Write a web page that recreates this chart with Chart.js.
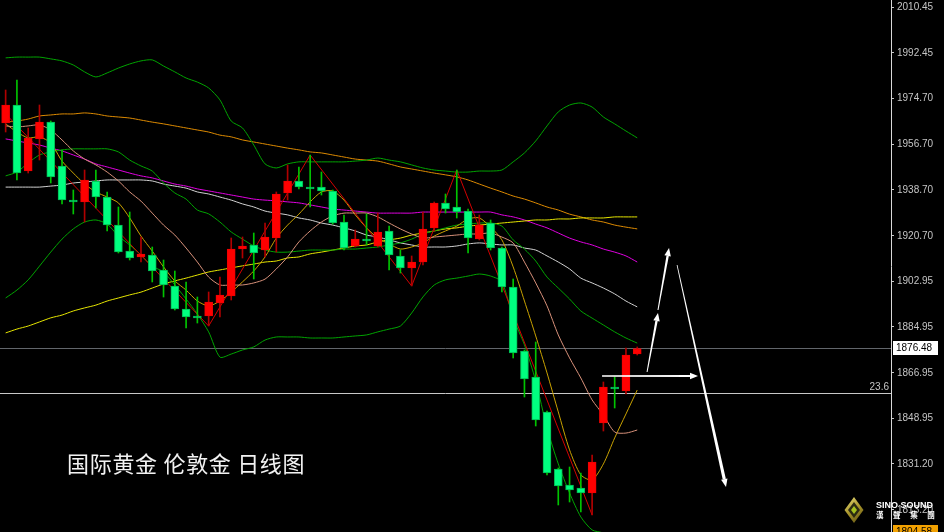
<!DOCTYPE html>
<html>
<head>
<meta charset="utf-8">
<script src="https://cdn.jsdelivr.net/npm/chart.js@4.4.1/dist/chart.umd.min.js"></script>
<style>
  html, body { margin: 0; padding: 0; background: #000; }
  #wrap { position: relative; width: 944px; height: 532px; overflow: hidden; background: #000; }
  #c { display: block; }
  #title {
    position: absolute; left: 67px; top: 451px;
    font: 22px/22px "Noto Sans CJK SC", sans-serif; color: #f2f2f2; white-space: pre; letter-spacing: 0.7px;
  }
  #brand {
    position: absolute; left: 876px; top: 500px;
    font: bold 9px/10px "Liberation Sans", Arial, sans-serif; color: #fff; white-space: nowrap;
  }
  #brandCn {
    position: absolute; left: 876px; top: 510px;
    font: bold 7.5px/9px "Noto Sans CJK TC", sans-serif; color: #fff; letter-spacing: 9.6px; white-space: nowrap;
  }
</style>
</head>
<body>
<div id="wrap">
  <canvas id="c" width="944" height="532"></canvas>
  <div id="title">国际黄金 伦敦金 日线图</div>
  <div id="brand">SINO SOUND</div>
  <div id="brandCn">漢聲集團</div>
</div>
<script>
// Daily gold (XAU) candles, oldest first
const opens  = [1964.95,1972.01,1946.12,1958.67,1965.34,1948.08,1934.74,1933.95,1942.19,1935.92,1924.93,1914.73,1912.38,1913.16,1907.28,1901.00,1891.98,1889.23,1889.23,1894.33,1897.08,1915.51,1917.08,1915.12,1919.83,1937.48,1942.19,1939.84,1939.84,1938.27,1926.11,1916.69,1919.44,1916.69,1922.58,1912.77,1908.06,1910.41,1923.75,1933.56,1931.99,1930.42,1919.44,1925.71,1915.91,1900.61,1875.50,1865.31,1851.57,1829.21,1822.93,1821.75,1819.79,1847.25,1861.38,1859.81,1874.32];
const highs  = [1977.89,1981.82,1962.98,1972.01,1965.73,1954.35,1938.66,1946.51,1946.51,1937.88,1931.99,1930.03,1920.22,1916.30,1911.20,1906.88,1902.57,1896.68,1898.65,1904.53,1919.83,1920.22,1921.79,1925.71,1937.88,1948.47,1947.68,1952.39,1945.72,1938.66,1928.85,1922.97,1929.25,1929.64,1924.54,1915.12,1912.77,1930.03,1933.95,1937.09,1946.51,1931.21,1928.85,1926.89,1916.30,1903.75,1875.89,1879.03,1851.96,1829.60,1829.99,1827.63,1834.70,1863.34,1865.31,1876.68,1877.07];
const lows   = [1961.42,1942.58,1945.33,1950.43,1941.41,1933.17,1929.25,1926.11,1931.60,1922.58,1913.95,1911.20,1910.41,1902.57,1896.68,1891.58,1884.52,1886.48,1885.31,1888.84,1895.51,1911.98,1903.75,1912.38,1914.34,1934.74,1939.05,1931.99,1936.70,1925.32,1915.12,1916.30,1917.08,1916.30,1907.28,1906.10,1901.00,1909.24,1922.58,1929.64,1927.68,1913.95,1919.05,1915.12,1898.65,1872.76,1857.46,1846.08,1826.85,1815.09,1816.26,1812.34,1811.16,1844.11,1853.14,1858.63,1873.93];
const closes = [1972.01,1945.33,1959.06,1965.34,1943.76,1934.74,1933.95,1942.58,1935.92,1924.93,1914.34,1911.98,1913.55,1906.88,1901.39,1891.98,1888.84,1888.45,1894.72,1897.47,1915.51,1916.69,1913.95,1920.22,1937.09,1942.19,1939.84,1939.05,1938.27,1925.71,1915.91,1919.44,1918.65,1922.18,1913.16,1908.06,1910.41,1923.36,1933.56,1931.21,1930.03,1919.83,1924.93,1915.91,1900.61,1874.72,1864.52,1848.43,1827.63,1822.54,1820.97,1819.79,1831.95,1861.38,1860.60,1873.93,1876.48];

// Bollinger bands
const upperBand  = [1990.5,1990.8,1990.8,1990.8,1990.1,1989.3,1987.7,1985.0,1983.0,1984.6,1986.5,1988.1,1989.3,1989.7,1987.3,1985.0,1982.6,1981.0,1978.7,1974.0,1965.7,1963.0,1956.3,1948.9,1947.3,1948.9,1949.7,1949.7,1949.7,1949.7,1949.7,1950.0,1950.4,1951.2,1950.4,1949.7,1948.5,1947.3,1946.5,1946.1,1945.7,1945.7,1946.1,1946.1,1946.5,1949.7,1953.2,1957.9,1963.8,1969.3,1972.0,1972.8,1971.2,1967.3,1964.6,1961.8,1959.1];
const middleBand = [1944.2,1945.7,1949.3,1952.4,1953.6,1954.4,1954.8,1954.8,1954.8,1954.8,1953.6,1950.4,1948.1,1946.1,1941.4,1937.5,1935.1,1930.8,1929.3,1926.1,1922.2,1919.4,1916.7,1915.1,1914.3,1914.3,1914.7,1915.1,1915.1,1915.1,1915.5,1915.5,1915.9,1916.3,1917.1,1917.9,1919.4,1921.4,1922.6,1923.8,1924.9,1925.3,1925.7,1925.7,1924.5,1919.1,1915.5,1910.8,1904.5,1900.2,1895.9,1891.2,1888.4,1885.7,1883.0,1880.6,1878.6];
const lowerBand  = [1896.3,1899.4,1903.4,1908.8,1914.3,1919.4,1923.4,1926.1,1926.9,1925.3,1920.6,1917.1,1913.2,1908.8,1906.5,1901.4,1895.9,1890.0,1883.0,1873.1,1874.3,1875.9,1877.1,1879.8,1881.0,1881.0,1881.0,1880.6,1880.6,1880.6,1881.0,1881.4,1881.8,1883.0,1884.1,1885.3,1890.4,1896.7,1901.4,1903.4,1904.1,1904.9,1905.7,1904.9,1902.6,1888.4,1877.9,1863.7,1845.3,1831.2,1819.8,1810.4,1805.3,1804.1,1801.7,1799.8,1798.2];

// Moving averages
const maFast    = [1964.6,1961.4,1959.1,1959.5,1957.1,1950.0,1945.3,1941.0,1937.9,1935.9,1933.6,1927.7,1920.6,1914.7,1908.5,1903.0,1899.4,1895.1,1893.2,1895.1,1898.6,1902.6,1906.9,1912.4,1919.8,1924.9,1929.2,1934.0,1937.9,1938.3,1934.7,1928.9,1923.8,1919.8,1917.5,1915.5,1916.3,1917.9,1920.6,1922.6,1924.5,1927.3,1927.7,1924.1,1919.1,1908.5,1895.1,1881.4,1866.9,1851.6,1836.7,1826.9,1824.9,1831.2,1841.4,1850.8,1860.2];
const maShort   = [1963.8,1963.4,1963.8,1964.2,1962.2,1958.3,1954.0,1950.8,1948.5,1945.7,1942.2,1937.9,1934.3,1929.6,1924.9,1921.0,1915.9,1910.4,1904.5,1901.4,1901.4,1901.4,1902.2,1903.7,1907.7,1912.4,1918.3,1922.6,1926.1,1928.5,1929.6,1929.6,1929.6,1928.1,1925.7,1923.4,1921.4,1919.8,1920.2,1920.6,1921.0,1921.4,1921.4,1921.8,1920.2,1917.9,1910.4,1902.2,1893.2,1881.8,1872.8,1864.9,1856.3,1850.4,1843.7,1843.3,1844.5];
const maMid     = [1939.8,1939.8,1939.8,1939.8,1940.2,1940.6,1941.4,1941.8,1942.2,1942.6,1942.6,1942.6,1942.6,1942.2,1941.0,1940.2,1939.4,1937.9,1937.1,1935.9,1934.7,1933.2,1932.0,1930.4,1929.6,1928.9,1927.7,1926.9,1925.7,1924.9,1923.8,1922.6,1921.0,1920.2,1919.1,1917.9,1917.1,1916.3,1916.3,1916.3,1916.7,1917.5,1917.9,1917.5,1917.1,1917.1,1915.9,1915.1,1912.8,1910.4,1907.7,1904.1,1902.2,1900.2,1897.9,1895.1,1892.8];
const maLong    = [1958.7,1957.9,1957.1,1956.3,1955.1,1954.0,1952.4,1950.8,1948.9,1947.7,1946.5,1945.3,1944.2,1943.4,1942.2,1941.0,1940.2,1939.1,1938.3,1937.5,1936.7,1935.9,1935.1,1934.7,1934.4,1934.0,1933.6,1932.8,1932.0,1931.2,1930.8,1930.4,1930.0,1929.6,1929.6,1929.6,1929.6,1930.0,1930.0,1930.0,1930.0,1930.0,1930.0,1930.0,1928.9,1928.1,1926.9,1925.3,1923.8,1921.8,1919.8,1918.3,1917.1,1915.5,1914.3,1912.8,1910.4];
const maSlow    = [1965.3,1965.7,1966.5,1967.7,1968.1,1968.5,1968.5,1968.9,1968.5,1967.7,1967.3,1966.9,1966.1,1965.3,1964.6,1963.8,1963.0,1962.2,1961.4,1960.2,1959.5,1958.3,1957.5,1956.7,1955.9,1955.1,1954.4,1953.6,1953.2,1952.4,1951.6,1950.8,1950.4,1950.0,1948.9,1947.7,1946.9,1946.1,1945.3,1944.6,1943.8,1942.6,1941.0,1939.4,1937.9,1936.3,1935.1,1933.6,1932.0,1930.8,1929.2,1928.1,1926.9,1926.1,1924.9,1924.1,1923.4];
const maTrend   = [1882.6,1884.1,1885.3,1886.9,1888.5,1889.6,1891.2,1892.4,1893.5,1895.1,1896.3,1897.5,1898.6,1900.2,1901.8,1903.0,1904.1,1905.3,1906.5,1907.3,1908.1,1908.9,1909.6,1910.4,1910.8,1912.0,1912.4,1913.6,1914.3,1915.1,1915.9,1916.7,1917.1,1918.3,1919.1,1919.8,1921.0,1921.8,1922.6,1923.4,1923.8,1924.5,1924.9,1925.3,1925.7,1926.1,1926.5,1926.9,1926.9,1927.3,1927.3,1927.7,1927.7,1927.7,1928.1,1928.1,1928.1];

// ZigZag swing points: [bar index, price]
const zigzagPivots = [[0,1968.5],[18,1885.31],[27,1952.39],[36,1901.00],[40,1946.51],[52,1811.16]];

// Price axis
const tickValues = [2010.45,1992.45,1974.70,1956.70,1938.70,1920.70,1902.95,1884.95,1866.95,1848.95,1831.20,1813.20];
const axisMin = 1804.49, axisMax = 2013.20;

// Fibonacci retracement level and the lower price marker
const fibRatio = '23.6', fibPrice = 1859.03;
const lowerMarkerPrice = 1804.58;

// Scenario arrows: [bar index, price] pairs
const arrows = [
  { from: [52.88, 1865.69], to: [61.39, 1865.69], w: [1.6, 2.2] },
  { from: [56.87, 1867.26], to: [57.84, 1890.41], w: [1.0, 2.4] },
  { from: [57.84, 1891.58], to: [58.82, 1915.91], w: [1.0, 2.4] },
  { from: [59.53, 1909.24], to: [63.87, 1822.15], w: [0.8, 3.2] }
];

// 79 daily slots; the last 22 stay empty as room on the right
const categories = Array.from({ length: 79 }, (_, i) => 'D' + (i + 1));

const lastClose = closes[closes.length - 1];
const isUp = i => closes[i] >= opens[i];

const zigzag = categories.map(() => null);
zigzagPivots.forEach(([i, p]) => { zigzag[i] = p; });

const lineSet = (data, color, order) => ({
  type: 'line', data, borderColor: color, borderWidth: 1, pointRadius: 0,
  pointHoverRadius: 0, tension: 0.25, fill: false, order, spanGaps: true
});

const bgPlugin = {
  id: 'bg',
  beforeDraw(chart) {
    const c = chart.ctx;
    c.save(); c.fillStyle = '#000'; c.fillRect(0, 0, chart.width, chart.height); c.restore();
  }
};

const levelsPlugin = {
  id: 'levels',
  beforeDatasetsDraw(chart) {
    const c = chart.ctx, y = chart.scales.y, a = chart.chartArea;
    c.save();
    const yl = Math.round(y.getPixelForValue(lastClose)) + 0.5;
    c.strokeStyle = '#62666b'; c.lineWidth = 1;
    c.beginPath(); c.moveTo(a.left, yl); c.lineTo(a.right, yl); c.stroke();
    const yf = Math.round(y.getPixelForValue(fibPrice)) + 0.5;
    c.strokeStyle = '#c8c8c8';
    c.beginPath(); c.moveTo(a.left, yf); c.lineTo(a.right, yf); c.stroke();
    c.fillStyle = '#c4c4c4'; c.font = '10px "Liberation Sans", Arial, sans-serif';
    c.textAlign = 'right'; c.textBaseline = 'bottom';
    c.fillText(fibRatio, a.right - 2, yf - 1);
    c.restore();
  }
};

function taperedArrow(c, x1, y1, x2, y2, w1, w2) {
  const dx = x2 - x1, dy = y2 - y1, len = Math.hypot(dx, dy);
  const ux = dx / len, uy = dy / len, nx = -uy, ny = ux;
  const hl = 8, hw = 6.5;
  const bx = x2 - ux * hl, by = y2 - uy * hl;
  c.beginPath();
  c.moveTo(x1 + nx * w1 / 2, y1 + ny * w1 / 2);
  c.lineTo(bx + nx * w2 / 2, by + ny * w2 / 2);
  c.lineTo(bx - nx * w2 / 2, by - ny * w2 / 2);
  c.lineTo(x1 - nx * w1 / 2, y1 - ny * w1 / 2);
  c.closePath(); c.fill();
  c.beginPath();
  c.moveTo(x2, y2);
  c.lineTo(bx + nx * hw / 2, by + ny * hw / 2);
  c.lineTo(bx - nx * hw / 2, by - ny * hw / 2);
  c.closePath(); c.fill();
}

const overlayPlugin = {
  id: 'overlay',
  afterDatasetsDraw(chart) {
    const c = chart.ctx, xs = chart.scales.x, ys = chart.scales.y;
    c.save();
    c.fillStyle = '#ffffff';
    arrows.forEach(ar => {
      taperedArrow(c,
        xs.getPixelForValue(ar.from[0]), ys.getPixelForValue(ar.from[1]),
        xs.getPixelForValue(ar.to[0]), ys.getPixelForValue(ar.to[1]),
        ar.w[0], ar.w[1]);
    });
    c.restore();
  },
  afterDraw(chart) {
    const c = chart.ctx, ys = chart.scales.y, a = chart.chartArea;
    c.save();
    c.font = '10px "Liberation Sans", Arial, sans-serif';
    c.textAlign = 'left'; c.textBaseline = 'middle';
    // current price tag
    const yl = ys.getPixelForValue(lastClose);
    c.fillStyle = '#ffffff';
    c.fillRect(a.right + 2, Math.round(yl) - 7, 45, 14);
    c.fillStyle = '#000';
    c.fillText(lastClose.toFixed(2), a.right + 5, Math.round(yl) + 0.5);
    // lower marker tag
    const ym = ys.getPixelForValue(lowerMarkerPrice);
    c.fillStyle = '#f2a100';
    c.fillRect(a.right + 2, Math.round(ym) - 7, 45, 15);
    c.fillStyle = '#000';
    c.fillText(lowerMarkerPrice.toFixed(2), a.right + 5, Math.round(ym) + 0.5);
    // brand emblem
    const cx = 854, cy = 510;
    c.beginPath(); c.moveTo(cx, cy - 13); c.lineTo(cx + 9.5, cy); c.lineTo(cx, cy + 13); c.lineTo(cx - 9.5, cy); c.closePath();
    const g = c.createLinearGradient(cx - 9, cy - 13, cx + 9, cy + 13);
    g.addColorStop(0, '#e8dc7a'); g.addColorStop(0.5, '#a8942a'); g.addColorStop(1, '#5a4e10');
    c.fillStyle = g; c.fill();
    c.beginPath(); c.moveTo(cx, cy - 8); c.lineTo(cx + 6, cy); c.lineTo(cx, cy + 8); c.lineTo(cx - 6, cy); c.closePath();
    c.fillStyle = '#2b2a12'; c.fill();
    c.beginPath(); c.moveTo(cx, cy - 4); c.lineTo(cx + 3, cy); c.lineTo(cx, cy + 4); c.lineTo(cx - 3, cy); c.closePath();
    c.fillStyle = '#a6c21e'; c.fill();
    c.restore();
  }
};

new Chart(document.getElementById('c'), {
  type: 'bar',
  data: {
    labels: categories,
    datasets: [
      {
        label: 'range',
        data: lows.map((l, i) => [l, highs[i]]),
        backgroundColor: ctx => isUp(ctx.dataIndex) ? '#b00000' : '#00c400',
        barThickness: 1, grouped: false, order: 2
      },
      {
        label: 'body',
        data: opens.map((o, i) => [o, closes[i]]),
        backgroundColor: ctx => isUp(ctx.dataIndex) ? '#ff0000' : '#00ff80',
        borderColor: ctx => isUp(ctx.dataIndex) ? '#f00000' : '#00b850',
        borderWidth: 1, borderSkipped: false,
        barThickness: 8, grouped: false, order: 1
      },
      lineSet(maTrend, '#e6e600', 10),
      lineSet(maSlow, '#dd8a00', 10),
      lineSet(maLong, '#e000e0', 10),
      lineSet(maMid, '#d2d2d2', 10),
      lineSet(upperBand, '#00a400', 9),
      lineSet(middleBand, '#00a400', 9),
      lineSet(lowerBand, '#00a400', 9),
      lineSet(maShort, '#d8917a', 8),
      lineSet(maFast, '#c9a200', 8),
      Object.assign(lineSet(zigzag, '#d40000', 7), { tension: 0 })
    ]
  },
  options: {
    responsive: false,
    animation: false,
    events: [],
    layout: { padding: 0 },
    plugins: { legend: { display: false }, tooltip: { enabled: false }, title: { display: false } },
    scales: {
      x: { display: false, offset: true, grid: { display: false } },
      y: {
        position: 'right',
        min: axisMin, max: axisMax,
        afterBuildTicks: s => { s.ticks = tickValues.map(v => ({ value: v })); },
        afterFit: s => { s.width = 53; s.paddingTop = 0; s.paddingBottom = 0; },
        ticks: {
          color: '#c4c4c4', padding: 3, autoSkip: false,
          font: { family: '"Liberation Sans", Arial, sans-serif', size: 10 },
          callback: v => Number(v).toFixed(2)
        },
        grid: { drawOnChartArea: false, drawTicks: true, tickLength: 3, color: '#c8c8c8' },
        border: { display: true, color: '#d8d8d8', width: 1 }
      }
    }
  },
  plugins: [bgPlugin, levelsPlugin, overlayPlugin]
});
</script>
</body>
</html>
